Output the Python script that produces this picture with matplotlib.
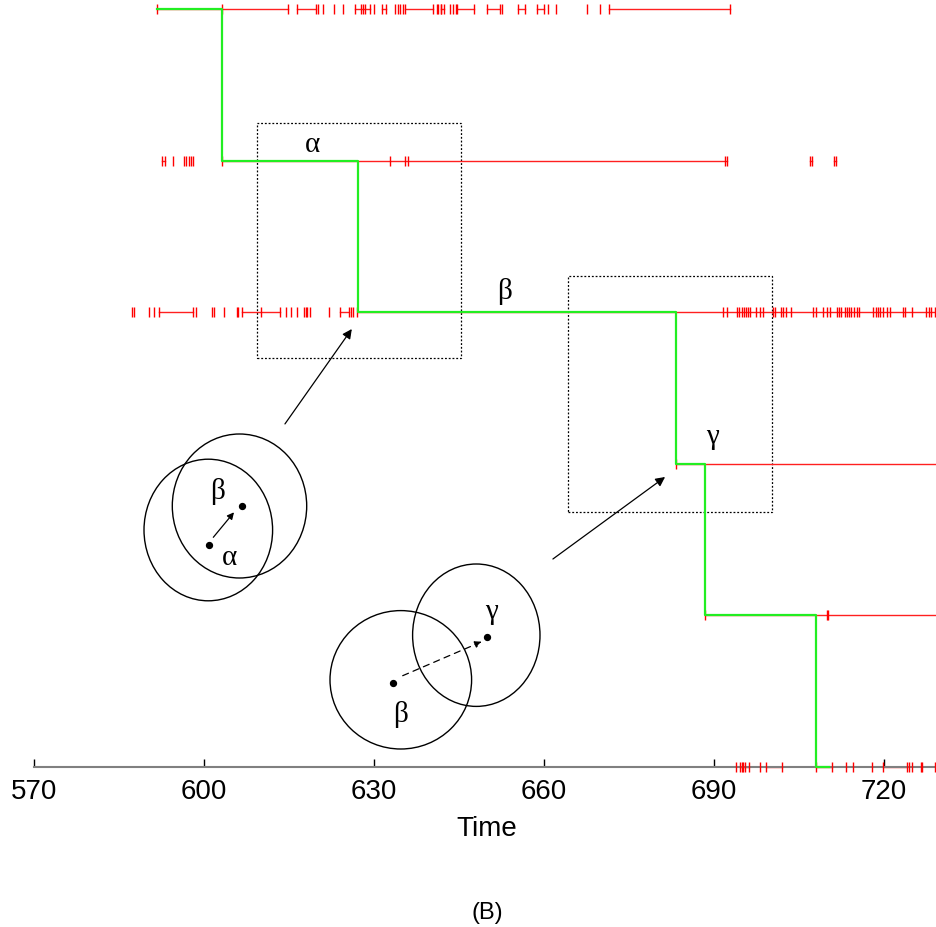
import matplotlib
matplotlib.use("Agg")
import matplotlib.pyplot as plt
from matplotlib.patches import Ellipse, Rectangle

# rows: 5 = top trace ... 0 = trace lying on the time axis
spikes = {
    5: [591.7, 603.2, 614.8, 616.5, 619.7, 620.2, 621.0, 622.9, 624.6, 626.6,
        627.8, 628.1, 628.5, 629.3, 630.0, 631.4, 632.2, 633.8, 634.2, 634.6,
        635.1, 635.5, 640.5, 641.1, 641.4, 641.8, 641.9, 642.4, 643.5, 644.0,
        644.5, 644.7, 647.7, 649.9, 652.2, 652.6, 655.5, 656.7, 658.8, 660.0,
        660.8, 662.2, 667.7, 669.9, 671.5, 692.8],
    4: [592.6, 593.2, 594.5, 596.5, 596.9, 597.4, 597.7, 598.0, 603.2, 632.8,
        635.5, 636.1, 692.0, 692.4, 707.0, 707.4, 711.3, 711.6],
    3: [587.3, 587.6, 590.3, 591.1, 592.1, 598.0, 598.6, 601.4, 601.8, 603.5,
        605.8, 606.1, 606.7, 610.0, 613.4, 614.5, 615.3, 616.4, 617.7, 618.0,
        618.2, 618.7, 622.1, 624.1, 625.6, 626.0, 626.4, 627.1, 691.7, 692.3,
        694.1, 694.4, 694.9, 695.3, 695.6, 696.0, 696.4, 697.5, 698.1, 698.6,
        700.4, 700.8, 701.8, 702.2, 702.8, 703.6, 707.5, 708.0, 709.3, 709.9,
        710.6, 711.7, 712.1, 712.5, 713.1, 713.5, 713.9, 714.3, 714.7, 715.2,
        715.6, 718.1, 718.6, 719.0, 719.4, 719.9, 720.5, 721.1, 723.4, 723.8,
        725.0, 727.5, 728.0, 728.4, 729.0],
    2: [683.3],
    1: [688.5, 710.0, 710.2],
    0: [693.9, 694.7, 695.0, 695.2, 695.5, 696.2, 698.2, 699.2, 702.1, 708.0,
        710.8, 713.3, 714.5, 718.0, 719.8, 724.1, 724.5, 724.9, 726.5, 726.8,
        729.0],
}

segments = {
    5: [(591.7, 614.8), (616.5, 619.7), (626.6, 629.3), (631.4, 632.2),
        (635.5, 640.5), (641.9, 642.4), (644.7, 647.7), (649.9, 652.2),
        (655.5, 656.7), (658.8, 660.0), (671.5, 692.8)],
    4: [(592.6, 593.2), (603.2, 692.4), (707.0, 707.4), (711.3, 711.6)],
    3: [(592.1, 598.0), (606.7, 613.4), (624.1, 625.6), (627.2, 729.4)],
    2: [(683.3, 729.4)],
    1: [(688.5, 729.4)],
    0: [(694.7, 696.2), (699.2, 702.1), (708.0, 710.8), (719.8, 724.1)],
}

# winning path (green)
path_t = [591.7, 603.2, 603.2, 627.2, 627.2, 683.3, 683.3, 688.5, 688.5,
          708.0, 708.0, 710.4]
path_row = [5, 5, 4, 4, 3, 3, 2, 2, 1, 1, 0, 0]

xticks = [570, 600, 630, 660, 690, 720]

boxes = [(609.4, 2.698, 645.4, 4.248), (664.2, 1.682, 700.3, 3.239)]
greek = [("α", 619.2, 4.11), ("β", 653.1, 3.146), ("γ", 689.8, 2.183)]
pointers = [((614.3, 2.263), (626.1, 2.889)), ((661.6, 1.372), (681.4, 1.913))]

fig = plt.figure(figsize=(9.37, 9.28), dpi=100)
ax = fig.add_axes([0, 160 / 928, 1, 768 / 928])
ax.set_xlim(564.0, 729.4)
ax.set_ylim(0, 5.066)

h = 0.033
for row, ts in spikes.items():
    ax.vlines(ts, row - h, row + h, color="red", lw=1.0, clip_on=False, zorder=3)
    for a, b in segments[row]:
        ax.plot([a, b], [row, row], color="#ff2020", lw=1.0, clip_on=False, zorder=2)

ax.plot(path_t, path_row, color="#22ee22", lw=1.6, clip_on=False, zorder=4)

for x0, y0, x1, y1 in boxes:
    ax.add_patch(Rectangle((x0, y0), x1 - x0, y1 - y0, fill=False, ec="black",
                           lw=0.9, ls=(0, (1.5, 1.5))))
for s, tx, ty in greek:
    ax.text(tx, ty, s, ha="center", va="center", fontsize=21,
            family="Liberation Serif")
for tail, head in pointers:
    ax.annotate("", xy=head, xytext=tail,
                arrowprops=dict(arrowstyle="-|>", color="black", lw=0.9,
                                mutation_scale=14, shrinkA=0, shrinkB=0))

for sp in ["top", "left", "right"]:
    ax.spines[sp].set_visible(False)
ax.spines["bottom"].set_color("#808080")
ax.spines["bottom"].set_linewidth(1.5)
ax.spines["bottom"].set_bounds(570, 729.4)
ax.set_yticks([])
ax.set_xticks(xticks)
ax.tick_params(axis="x", direction="in", length=5.5, width=1, color="black",
               labelsize=20, pad=8)
for lab in ax.get_xticklabels():
    lab.set_family("Liberation Sans")
ax.set_xlabel("Time", fontsize=20, family="Liberation Sans")
ax.xaxis.set_label_coords(487 / 937, -48 / 768)

# schematic insets drawn in figure pixels
ov = fig.add_axes([0, 0, 1, 1], zorder=5)
ov.set_xlim(0, 937)
ov.set_ylim(928, 0)
ov.axis("off")
ov.patch.set_alpha(0)

circles = [(208.3, 531, 128.6, 141.6), (239.5, 507, 134.4, 144),
           (400.8, 680.8, 141.6, 138.4), (476.3, 636.2, 127.4, 142.4)]
for cx, cy, w, hh in circles:
    ov.add_patch(Ellipse((cx, cy), w, hh, fill=False, ec="black", lw=1.0))
dots_x = [209.3, 241.7, 392.7, 487.3]
dots_y = [546, 506.7, 684, 637.7]
ov.scatter(dots_x, dots_y, s=18, color="black", zorder=6)
ov.annotate("", xy=(234, 513.3), xytext=(213.3, 538.3),
            arrowprops=dict(arrowstyle="-|>", color="black", lw=0.9,
                            mutation_scale=10, shrinkA=0, shrinkB=0))
ov.annotate("", xy=(481.7, 642.7), xytext=(402.7, 676.7),
            arrowprops=dict(arrowstyle="-|>", color="black", lw=0.9, ls=(0, (5, 4)),
                            mutation_scale=10, shrinkA=0, shrinkB=0))
for s, tx, ty in [("β", 217.3, 491.7), ("α", 230, 558.3),
                  ("β", 400.7, 715), ("γ", 491.7, 611.7)]:
    ov.text(tx, ty, s, ha="center", va="center", fontsize=21,
            family="Liberation Serif")

fig.text(487 / 937, 1 - 913 / 928, "(B)", ha="center", va="center",
         fontsize=17, family="Liberation Sans")

fig.savefig("out.png", dpi=100)
